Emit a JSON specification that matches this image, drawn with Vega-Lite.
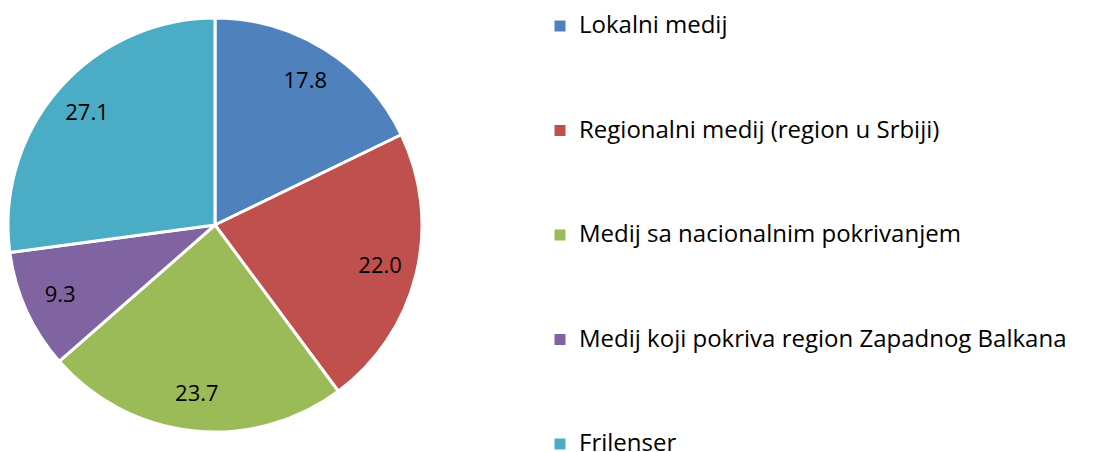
{
  "$schema": "https://vega.github.io/schema/vega-lite/v6.json",
  "width": 430,
  "height": 450,
  "padding": 0,
  "background": "white",
  "config": {"view": {"stroke": null}, "font": "Open Sans"},
  "data": {
    "values": [
      {"kategorija": "Lokalni medij", "vrednost": 17.8, "red": 1},
      {"kategorija": "Regionalni medij (region u Srbiji)", "vrednost": 22.0, "red": 2},
      {"kategorija": "Medij sa nacionalnim pokrivanjem", "vrednost": 23.7, "red": 3},
      {"kategorija": "Medij koji pokriva region Zapadnog Balkana", "vrednost": 9.3, "red": 4},
      {"kategorija": "Frilenser", "vrednost": 27.1, "red": 5}
    ]
  },
  "encoding": {
    "theta": {"field": "vrednost", "type": "quantitative", "stack": true},
    "order": {"field": "red", "type": "quantitative"},
    "color": {
      "field": "kategorija",
      "type": "nominal",
      "sort": ["Lokalni medij", "Regionalni medij (region u Srbiji)", "Medij sa nacionalnim pokrivanjem", "Medij koji pokriva region Zapadnog Balkana", "Frilenser"],
      "scale": {
        "domain": ["Lokalni medij", "Regionalni medij (region u Srbiji)", "Medij sa nacionalnim pokrivanjem", "Medij koji pokriva region Zapadnog Balkana", "Frilenser"],
        "range": ["#4F81BD", "#C0504D", "#9BBB59", "#8064A2", "#4BACC6"]
      },
      "legend": {
        "title": null,
        "orient": "none",
        "legendX": 548,
        "legendY": 14,
        "symbolType": "square",
        "symbolSize": 121,
        "symbolStrokeWidth": 0,
        "labelFontSize": 24,
        "labelFont": "Open Sans",
        "labelColor": "#000000",
        "labelLimit": 700,
        "rowPadding": 80.5,
        "labelOffset": 7
      }
    }
  },
  "layer": [
    {
      "mark": {"type": "arc", "outerRadius": 207, "stroke": "white", "strokeWidth": 3}
    },
    {
      "mark": {"type": "text", "radius": 170, "fontSize": 22, "color": "#000000", "font": "Open Sans"},
      "encoding": {
        "text": {"field": "vrednost", "type": "quantitative", "format": ".1f"},
        "color": {"value": "#000000"}
      }
    }
  ]
}
